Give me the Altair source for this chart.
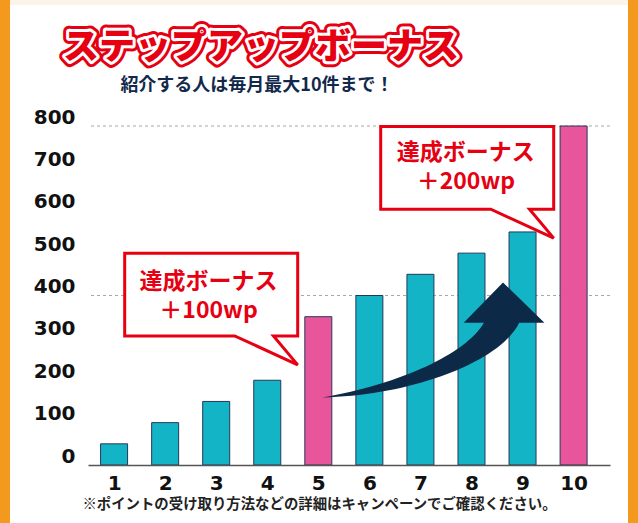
import altair as alt
import pandas as pd

# ---- data -------------------------------------------------------------
counts = [1, 2, 3, 4, 5, 6, 7, 8, 9, 10]
points = [50, 100, 150, 200, 350, 400, 450, 500, 550, 800]
bonus_counts = [5, 10]
y_ticks = [0, 100, 200, 300, 400, 500, 600, 700, 800]
grid_levels = [400, 800]

title_text = "ステップアップボーナス"
subtitle_text = "紹介する人は毎月最大10件まで！"
note_text = "※ポイントの受け取り方法などの詳細はキャンペーンでご確認ください。"
bonus_heading = "達成ボーナス"
bonus_amounts = ["＋100wp", "＋200wp"]

# ---- styling ----------------------------------------------------------
RED = "#e60012"
NAVY = "#0c2a48"
TEAL = "#14b4c7"
PINK = "#e8559a"
ORANGE = "#f39a1e"
JP = "Noto Sans CJK JP"
NUM = "DejaVu Sans"

W, H = 522, 339
PAD = {"left": 88, "top": 126, "right": 28, "bottom": 58}

x_scale = alt.Scale(domain=[0.587, 10.615], nice=False, zero=False)
y_scale = alt.Scale(domain=[0, 800], nice=False)

x_axis = alt.Axis(
    values=counts, format="d", title=None, grid=False, ticks=False, tickSize=0,
    domainColor="#555555", domainWidth=1.5, labelFont=NUM, labelFontWeight="bold",
    labelFontSize=20, labelColor="#111111", labelPadding=8, zindex=1)
y_axis = alt.Axis(
    values=y_ticks, title=None, grid=False, ticks=False, tickSize=0, domain=False,
    labelFont=NUM, labelFontWeight="bold", labelFontSize=20, labelColor="#111111",
    labelPadding=13, labelBaseline="alphabetic", labelOffset=-3, zindex=1)

X = alt.X("count:Q", scale=x_scale, axis=x_axis)
Y = alt.Y("points:Q", scale=y_scale, axis=y_axis)

bars_df = pd.DataFrame({
    "count": counts,
    "points": points,
    "kind": ["bonus" if c in bonus_counts else "normal" for c in counts],
})
one = pd.DataFrame({"k": [0]})

# white card on the orange page
frame = alt.Chart(one).mark_rect(color="white").encode(
    x=alt.value(-78), x2=alt.value(540), y=alt.value(-121), y2=alt.value(H + PAD["bottom"])
)
strip = alt.Chart(one).mark_rect(color="#fdf4e8").encode(
    x=alt.value(-78), x2=alt.value(540), y=alt.value(-PAD["top"]), y2=alt.value(-121)
)

grid = alt.Chart(pd.DataFrame({"points": grid_levels})).mark_rule(
    color="#a8a8a8", strokeDash=[3, 3], strokeWidth=1
).encode(y=Y)

bars = alt.Chart(bars_df).mark_bar(width=27, stroke="#24395a", strokeWidth=1).encode(
    x=X, y=Y,
    color=alt.Color("kind:N", scale=alt.Scale(domain=["normal", "bonus"], range=[TEAL, PINK]),
                    legend=None),
)

# curved rising arrow
ARROW = ("M -1 0.518 C -0.2 0.5 0.6 0.2 0.773 -0.155 L 1 -0.155 L 0.627 -0.518 "
         "L 0.273 -0.155 L 0.455 -0.155 C 0.3 0.12 -0.3 0.4 -1 0.518 Z")
arrow = alt.Chart(pd.DataFrame({"count": [7.254], "points": [295]})).mark_point(
    shape=ARROW, size=222 ** 2, filled=True, fill=NAVY, stroke=None, opacity=1
).encode(x=X, y=Y)

# speech bubbles pointing at the bonus bars
BUBBLE = ("M -1 -0.645 L 1 -0.645 L 1 0.31 L 0.72 0.31 L 1 0.645 L 0.272 0.31 "
          "L -1 0.31 Z")
bubble_df = pd.DataFrame({"count": [2.902, 7.916], "points": [368, 667]})
bubbles = alt.Chart(bubble_df).mark_point(
    shape=BUBBLE, size=173 ** 2, filled=True, fill="white", stroke=RED, strokeWidth=3,
    strokeJoin="miter", opacity=1, fillOpacity=1
).encode(x=X, y=Y)

label_df = pd.DataFrame({
    "count": [2.85, 7.89],
    "points": [432, 736],
    "t": [f"{bonus_heading}\n{bonus_amounts[0]}", f"{bonus_heading}\n{bonus_amounts[1]}"],
})
bubble_text = alt.Chart(label_df).mark_text(
    font=JP, fontWeight="bold", fontSize=23, color=RED, align="center", baseline="middle",
    lineBreak="\n", lineHeight=29
).encode(x=X, y=Y, text="t:N")

# outlined headline: red halo, white ring, red fill
def headline(**kw):
    return alt.Chart(one).mark_text(
        text=title_text, font=JP, fontWeight=900, fontSize=36, align="center",
        baseline="middle", strokeJoin="round", **kw
    ).encode(x=alt.value(173), y=alt.value(-78))

title_outer = headline(color=RED, stroke=RED, strokeWidth=12)
title_ring = headline(color="white", stroke="white", strokeWidth=6)
title_fill = headline(color=RED)

subtitle = alt.Chart(one).mark_text(
    text=subtitle_text, font=JP, fontWeight="bold", fontSize=18, color="#13294b",
    align="center", baseline="middle"
).encode(x=alt.value(169), y=alt.value(-40))

note = alt.Chart(one).mark_text(
    text=note_text, font=JP, fontWeight="bold", fontSize=14.4, color="#222222",
    align="center", baseline="middle"
).encode(x=alt.value(231.5), y=alt.value(379))

chart = alt.layer(
    strip, frame, grid, bars, arrow, bubbles, bubble_text,
    title_outer, title_ring, title_fill, subtitle, note
).properties(
    width=W, height=H, padding=PAD, autosize=alt.AutoSizeParams(type="none"),
    background=ORANGE
).configure_view(stroke=None)

chart.save("out.html", embed_options={"renderer": "svg", "actions": False})
